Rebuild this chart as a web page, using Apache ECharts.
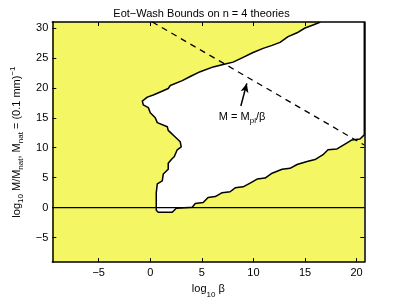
<!DOCTYPE html>
<html>
<head>
<meta charset="utf-8">
<script src="https://cdn.jsdelivr.net/npm/echarts@6/dist/echarts.min.js"></script>
<style>html,body{margin:0;padding:0;background:#fff}#c{width:403px;height:304px}</style>
</head>
<body>
<div id="c"></div>
<script>
// Axis ranges and ticks
var xRange = [-9.5, 20.75];
var yRange = [-9.1, 31];
var xTicks = [-5, 0, 5, 10, 15, 20];
var yTicks = [-5, 0, 5, 10, 15, 20, 25, 30];

// Boundary contour of the allowed (white) region
var contourX = [16.5, 15.78, 15.0, 14.23, 13.36, 12.58, 11.81, 10.94, 9.97, 9.0, 8.03, 7.26, 6.1, 4.84, 3.87, 3.1, 1.94, 1.74, 0.97, 0.29, -0.29, -0.77, -0.68, -0.19, 0.0, 0.48, 0.68, 1.65, 1.74, 2.42, 2.9, 3.0, 2.61, 2.32, 2.13, 1.74, 1.74, 1.26, 1.16, 0.68, 0.58, 0.58, 0.77, 2.13, 2.52, 4.07, 4.36, 5.13, 5.6, 6.3, 6.97, 7.74, 8.23, 9.0, 9.68, 10.36, 11.13, 11.81, 12.78, 13.55, 14.23, 15.2, 15.97, 16.75, 17.23, 18.1, 18.88, 19.55, 20.33, 20.75, 20.75];
var contourY = [31.0, 30.5, 30.0, 29.2, 28.55, 27.6, 27.1, 26.6, 25.9, 25.1, 24.3, 24.0, 23.5, 22.7, 21.9, 21.2, 20.4, 19.9, 19.3, 18.8, 18.45, 17.8, 17.15, 16.7, 15.85, 15.0, 14.2, 13.5, 12.9, 11.8, 11.0, 10.15, 9.66, 8.5, 8.2, 7.4, 6.4, 5.6, 4.45, 3.96, 2.5, -0.44, -0.77, -0.77, -0.1, 0.05, 0.7, 0.86, 1.68, 1.84, 2.5, 2.65, 3.3, 3.47, 4.1, 4.77, 4.93, 5.75, 6.4, 6.56, 7.2, 7.7, 8.03, 8.84, 9.66, 9.8, 10.6, 11.3, 11.45, 12.15, 31.0];

// M = M_pl / beta line
var mplX = [0.2, 20.75];
var mplY = [31.0, 10.45];

// zero line
var zeroX = [-9.5, 20.75];
var zeroY = [0, 0];

// arrow annotation (tail, head) and label position
var arrowX = [8.78, 9.36];
var arrowY = [16.98, 20.74];
var labelPos = [8.9, 15.1];

var FONT = 'Liberation Sans, Arial, Helvetica, sans-serif';
function fmt(v){ return String(v).replace('-', '\u2212'); }

var chart = echarts.init(document.getElementById('c'), null, {renderer:'canvas'});

function axisCommon(extra){
  var base = {
    type: 'value',
    splitLine: {show:false},
    axisLine: {show:true, onZero:false, lineStyle:{color:'#000', width:1.5}},
    axisTick: {show:true, inside:true, length:4, lineStyle:{color:'#000', width:1}},
    axisLabel: {show:true, color:'#000', fontFamily:FONT, fontSize:11, formatter: fmt}
  };
  for (var k in extra) base[k] = extra[k];
  return base;
}

var option = {
  animation: false,
  backgroundColor: '#fff',
  title: {
    text: 'Eot\u2212Wash Bounds on n = 4 theories',
    left: 'center', top: 3,
    textStyle: {fontFamily:FONT, fontSize:11, fontWeight:'normal', color:'#000'}
  },
  grid: {left:52.3, right:38.7, top:22, bottom:35.7, show:true, backgroundColor:'#f4f763', borderWidth:0},
  xAxis: [
    axisCommon({min:xRange[0], max:xRange[1], position:'bottom',
      axisTick:{show:true, inside:true, length:4, customValues:xTicks, lineStyle:{color:'#000'}},
      axisLabel:{show:true, customValues:xTicks, color:'#000', fontFamily:FONT, fontSize:11, margin:5, formatter:fmt},
      name:'{n|log}{s|10}{n| \u03b2}', nameLocation:'middle', nameGap:13,
      nameTextStyle:{rich:{
        n:{fontFamily:FONT, fontSize:11, color:'#000', lineHeight:16, verticalAlign:'top'},
        s:{fontFamily:FONT, fontSize:8, color:'#000', lineHeight:16, verticalAlign:'bottom'}
      }}
    }),
    axisCommon({min:xRange[0], max:xRange[1], position:'top',
      axisTick:{show:true, inside:true, length:4, customValues:xTicks, lineStyle:{color:'#000'}},
      axisLabel:{show:false}})
  ],
  yAxis: [
    axisCommon({min:yRange[0], max:yRange[1], position:'left',
      axisTick:{show:true, inside:true, length:4, customValues:yTicks, lineStyle:{color:'#000'}},
      axisLabel:{show:true, customValues:yTicks, color:'#000', fontFamily:FONT, fontSize:11, margin:4, formatter:fmt},
      name:'{n|log}{s|10}{n| M/M}{s|nat}{n|, M}{s|nat}{n| = (0.1 mm)}{p|\u22121}',
      nameLocation:'middle', nameGap:22, nameRotate:90,
      nameTextStyle:{rich:{
        n:{fontFamily:FONT, fontSize:11, color:'#000', lineHeight:16, verticalAlign:'middle'},
        s:{fontFamily:FONT, fontSize:8, color:'#000', lineHeight:16, verticalAlign:'bottom'},
        p:{fontFamily:FONT, fontSize:8, color:'#000', lineHeight:16, verticalAlign:'top'}
      }}
    }),
    axisCommon({min:yRange[0], max:yRange[1], position:'right',
      axisTick:{show:true, inside:true, length:4, customValues:yTicks, lineStyle:{color:'#000'}},
      axisLabel:{show:false}})
  ],
  series: [
    {
      type:'custom', xAxisIndex:0, yAxisIndex:0, clip:true, silent:true, z:2,
      data:[[contourX[0], contourY[0]]],
      renderItem: function(params, api){
        var pts = contourX.map(function(x,i){ return api.coord([x, contourY[i]]); });
        return {type:'polygon', shape:{points:pts}, style:{fill:'#ffffff', stroke:'#000', lineWidth:1.5, lineJoin:'round'}};
      }
    },
    {
      type:'line', xAxisIndex:0, yAxisIndex:0, z:3, symbol:'none', silent:true,
      data: mplX.map(function(x,i){ return [x, mplY[i]]; }),
      lineStyle:{color:'#000', width:1.3, type:[6,5]}
    },
    {
      type:'line', xAxisIndex:0, yAxisIndex:0, z:4, symbol:'none', silent:true,
      data: zeroX.map(function(x,i){ return [x, zeroY[i]]; }),
      lineStyle:{color:'#000', width:1.3}
    },
    {
      type:'scatter', xAxisIndex:0, yAxisIndex:0, z:5, symbolSize:0, silent:true,
      itemStyle:{opacity:1, color:'#000'},
      data:[labelPos],
      label:{show:true, position:'inside', color:'#000', opacity:1, textBorderWidth:0,
        formatter:'{n|M = M}{s|pl}{n|/\u03b2}',
        rich:{
          n:{fontFamily:FONT, fontSize:11, color:'#000', lineHeight:16, verticalAlign:'middle', textBorderWidth:0},
          s:{fontFamily:FONT, fontSize:8, color:'#000', lineHeight:16, verticalAlign:'bottom', textBorderWidth:0}
        }},
      markLine:{
        silent:true, symbol:['none','arrow'], symbolSize:[6,9],
        label:{show:false},
        lineStyle:{color:'#000', width:1.5, type:'solid'},
        data:[[{coord:[arrowX[0], arrowY[0]]},{coord:[arrowX[1], arrowY[1]]}]]
      }
    }
  ]
};
chart.setOption(option);
</script>
</body>
</html>
